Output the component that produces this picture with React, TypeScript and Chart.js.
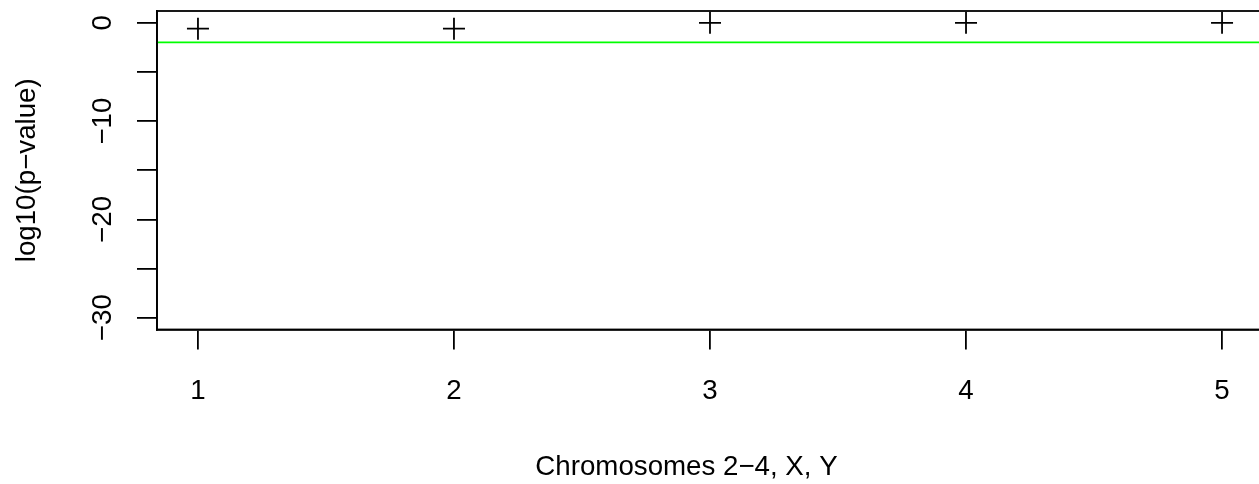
import React, { useEffect, useRef } from "react";
import { Chart, registerables } from "chart.js";

Chart.register(...registerables);

// ---- data ----
const chromosomeIndex = [1, 2, 3, 4, 5];
const log10PValues = [-0.6, -0.6, 0, 0, 0];
const xTicks = [1, 2, 3, 4, 5];
const yTicks = [0, -5, -10, -15, -20, -25, -30];
const yLabeledTicks = [0, -10, -20, -30];
const thresholdValue = -2;
const xRange = [0.84, 5.16];
const yRange = [-31.2, 1.2];
const xTitle = "Chromosomes 2\u22124, X, Y";
const yTitle = "log10(p\u2212value)";

const FONT = "'Liberation Sans', Arial, Helvetica, sans-serif";
const FS = 27.7;
const LW = 1.8;

const fmt = (v: number) => (v < 0 ? "\u2212" + Math.abs(v) : String(v));

const zeroPad = (s: any) => {
  s.paddingTop = 0;
  s.paddingBottom = 0;
  s.paddingLeft = 0;
  s.paddingRight = 0;
};

const rPlotPlugin = {
  id: "rPlot",
  afterDatasetsDraw(chart: any) {
    const { ctx, chartArea, scales } = chart;
    const y = scales.y.getPixelForValue(thresholdValue);
    ctx.save();
    ctx.strokeStyle = "#00ff00";
    ctx.lineWidth = LW;
    ctx.beginPath();
    ctx.moveTo(chartArea.left, y);
    ctx.lineTo(chartArea.right, y);
    ctx.stroke();
    ctx.restore();
  },
  afterDraw(chart: any) {
    const { ctx, chartArea } = chart;
    ctx.save();
    ctx.strokeStyle = "#000";
    ctx.lineWidth = LW;
    ctx.strokeRect(chartArea.left, chartArea.top, chartArea.right - chartArea.left, chartArea.bottom - chartArea.top);
    ctx.fillStyle = "#000";
    ctx.font = `${FS}px ${FONT}`;
    ctx.textAlign = "center";
    ctx.textBaseline = "alphabetic";
    ctx.fillText(xTitle, 686.5, 475);
    ctx.restore();
  },
};

export default function App() {
  const ref = useRef<HTMLCanvasElement | null>(null);
  useEffect(() => {
    if (!ref.current) return;
    const chart = new Chart(ref.current, {
      type: "scatter",
      data: {
        datasets: [
          {
            data: chromosomeIndex.map((x, i) => ({ x, y: log10PValues[i] })),
            pointStyle: "cross",
            pointRadius: 11,
            pointBorderWidth: LW,
            pointBorderColor: "#000",
            pointBackgroundColor: "#000",
            showLine: false,
            clip: false as any,
          },
        ],
      },
      options: {
        animation: false,
        responsive: false,
        devicePixelRatio: 1,
        layout: { autoPadding: false, padding: { top: 11, left: 0, right: 0, bottom: 0 } },
        plugins: { legend: { display: false }, tooltip: { enabled: false } },
        scales: {
          x: {
            type: "linear",
            min: xRange[0],
            max: xRange[1],
            afterBuildTicks: (s: any) => {
              s.ticks = xTicks.map((v) => ({ value: v }));
            },
            afterFit: (s: any) => {
              s.height = 154.5;
              zeroPad(s);
            },
            grid: {
              drawOnChartArea: false,
              drawTicks: true,
              tickLength: 20,
              color: "#000",
              lineWidth: LW,
            },
            border: { display: true, color: "#000", width: LW },
            ticks: {
              color: "#000",
              font: { family: FONT, size: FS },
              padding: 25,
              maxRotation: 0,
              minRotation: 0,
              autoSkip: false,
              callback: (v: any) => fmt(Number(v)),
            },
            title: { display: false },
          },
          y: {
            type: "linear",
            min: yRange[0],
            max: yRange[1],
            afterBuildTicks: (s: any) => {
              s.ticks = yTicks.map((v) => ({ value: v }));
            },
            afterFit: (s: any) => {
              s.width = 157;
              zeroPad(s);
            },
            grid: {
              drawOnChartArea: false,
              drawTicks: true,
              tickLength: 20,
              color: "#000",
              lineWidth: LW,
            },
            border: { display: true, color: "#000", width: LW },
            ticks: {
              color: "#000",
              font: { family: FONT, size: FS },
              padding: 10,
              minRotation: 90,
              maxRotation: 90,
              crossAlign: "center",
              autoSkip: false,
              callback: (v: any) => (yLabeledTicks.includes(Number(v)) ? fmt(Number(v)) : ""),
            },
            title: {
              display: true,
              text: yTitle,
              color: "#000",
              font: { family: FONT, size: FS },
              padding: { top: 11, bottom: 0 },
            },
          },
        },
      },
      plugins: [rPlotPlugin],
    } as any);
    return () => chart.destroy();
  }, []);

  return (
    <div
      style={{
        position: "fixed",
        left: 0,
        top: 0,
        width: 1259,
        height: 484,
        overflow: "hidden",
        background: "#fff",
      }}
    >
      <canvas ref={ref} width={1263} height={484} style={{ display: "block" }} />
    </div>
  );
}
